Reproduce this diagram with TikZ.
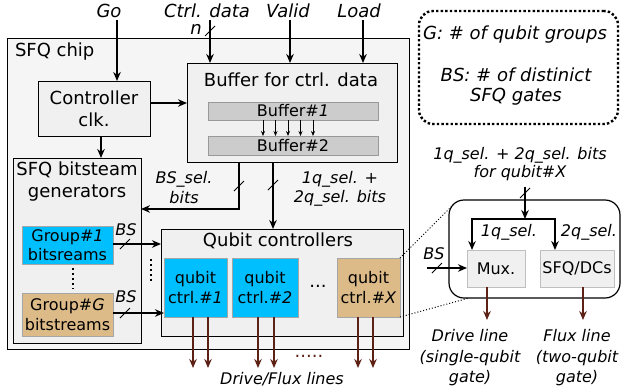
\documentclass[tikz,border=0pt]{standalone}
\usepackage{fontspec}
\setmainfont{DejaVu Sans}
\usepackage{xcolor}
\usetikzlibrary{arrows.meta,positioning,calc}
\definecolor{chipgray}{RGB}{245,245,245}
\definecolor{blockgray}{RGB}{240,240,240}
\definecolor{buffergray}{RGB}{204,204,204}
\definecolor{groupcyan}{RGB}{0,191,255}
\definecolor{grouptan}{RGB}{221,187,136}
\definecolor{linebrown}{RGB}{94,33,22}

\newcommand{\bigfont}{\fontsize{18}{22}\selectfont}
\newcommand{\smallfont}{\fontsize{16}{19.5}\selectfont}
% slash across a bus line
\newcommand{\busmark}[1]{\draw[line width=0.9pt] (#1) ++(-5,5) -- ++(10,-10);}

\begin{document}
\begin{tikzpicture}[x=1pt,y=-1pt,>={Stealth[length=9pt,width=7.5pt]},
    every node/.style={inner sep=0pt,outer sep=0pt},
    block/.style={draw, line width=1pt, fill=blockgray},
    ctrlbox/.style={draw=gray!70, line width=0.6pt, align=center, font=\smallfont},
    sig/.style={->, line width=1.3pt},
    drive/.style={->, line width=1.3pt, draw=linebrown},
    lbl/.style={font=\smallfont\itshape, align=center}]
    \useasboundingbox (0,0) rectangle (621,389);

    % SFQ chip
    \node[block, fill=chipgray, minimum width=402pt, minimum height=311pt] (chip) at (208,193.5) {};
    \node[font=\bigfont, anchor=west] (chiptitle) at (15,52) {SFQ chip};

    % Inputs
    \node[font=\bigfont\itshape] (go) at (109,11) {Go};
    \node[font=\bigfont\itshape] (cdata) at (207,11) {Ctrl. data};
    \node[font=\bigfont\itshape] (valid) at (288,11) {Valid};
    \node[font=\bigfont\itshape] (load) at (359,11) {Load};
    \node[font=\bigfont\itshape] (nbits) at (196,29) {n};

    % Controller clock and buffer
    \node[block, minimum width=112pt, minimum height=55pt, align=center, font=\bigfont] (clk) at (94,108.5) {Controller\\clk.};
    \node[block, minimum width=210pt, minimum height=99pt] (buffer) at (292,112.5) {};
    \node[font=\bigfont] (buftitle) at (291,80) {Buffer for ctrl. data};
    \node[draw=gray!80, fill=buffergray, minimum width=170pt, minimum height=18pt, font=\smallfont] (buf1) at (293,111) {Buffer\#\textit{1}};
    \node[draw=gray!80, fill=buffergray, minimum width=170pt, minimum height=19pt, font=\smallfont] (buf2) at (293,145.5) {Buffer\#2};
    \foreach \dx in {-30,-17.5,-5,7.5,20}
        \draw[->, >={Stealth[length=5pt,width=4pt]}, line width=0.8pt] ([xshift=\dx pt]buf1.south) -- ([xshift=\dx pt]buf2.north);

    \draw[sig] ([xshift=8pt,yshift=-2pt]go.south) -- ([xshift=8pt]go.south |- clk.north);
    \draw[sig] ([xshift=3pt,yshift=-2pt]cdata.south) -- ([xshift=3pt]cdata.south |- buffer.north);
    \busmark{$(cdata.south)+(3,13)$}
    \draw[sig] ([xshift=2pt,yshift=-2pt]valid.south) -- ([xshift=2pt]valid.south |- buffer.north);
    \draw[sig] ([xshift=4pt,yshift=-2pt]load.south) -- ([xshift=4pt]load.south |- buffer.north);
    \draw[sig] ([yshift=5.5pt]clk.east) -- ([yshift=5.5pt]clk.east -| buffer.west);

    % Bitstream generators
    \node[block, minimum width=128pt, minimum height=185pt] (gen) at (77,250.5) {};
    \node[font=\bigfont, align=center] (gentitle) at (77,182) {SFQ bitsteam\\generators};
    \node[ctrlbox, fill=groupcyan, minimum width=91pt, minimum height=38pt] (grp1) at (67.5,245) {Group\#\textit{1}\\bitsreams};
    \node[ctrlbox, fill=grouptan, minimum width=91pt, minimum height=43pt] (grpG) at (67.5,314.5) {Group\#\textit{G}\\bitstreams};
    \draw[line width=1.6pt, dash pattern=on 1.6pt off 3.4pt] (73,268) -- (73,289);
    \draw[sig] ([xshift=7pt]clk.south) -- ([xshift=7pt]clk.south |- gen.north);

    % Qubit controllers
    \node[block, minimum width=242pt, minimum height=107pt] (qc) at (282,282.5) {};
    \node[font=\bigfont] (qctitle) at (278,241) {Qubit controllers};
    \node[ctrlbox, fill=groupcyan, minimum width=63pt, minimum height=59pt] (q1) at (195.5,287.5) {qubit\\ctrl.\#\textit{1}};
    \node[ctrlbox, fill=groupcyan, minimum width=66pt, minimum height=59pt] (q2) at (265,287.5) {qubit\\ctrl.\#\textit{2}};
    \node[ctrlbox, fill=grouptan, minimum width=63pt, minimum height=59pt] (qX) at (368.5,287.5) {qubit\\ctrl.\#\textit{X}};
    \node[font=\bigfont] (qdots) at (318,286) {...};
    \draw[line width=1.6pt, dash pattern=on 1.6pt off 3.4pt] (151,259) -- (151,283);

    % Group bitstreams to qubit controllers
    \draw[sig] ([yshift=1pt]grp1.east) -- ([yshift=1pt]grp1.east -| qc.west);
    \busmark{$(grp1.east)+(12,-1)$}
    \node[lbl] (bs1) at (126,230) {BS};
    \draw[sig] ([yshift=1.5pt]grpG.east) -- ([yshift=1.5pt]grpG.east -| q1.west);
    \busmark{$(grpG.east)+(12,-1.5)$}
    \node[lbl] (bs2) at (126,297) {BS};

    % Select bits from the buffer
    \draw[sig] ([xshift=-53pt]buffer.south) |- ([yshift=41.5pt]gen.east);
    \busmark{$(buffer.south)+(-53,24)$}
    \node[lbl] (bssel) at (184,187.5) {BS\_sel.\\bits};
    \draw[sig] ([xshift=-19pt]buffer.south) -- ([xshift=-19pt]buffer.south |- qc.north);
    \busmark{$(buffer.south)+(-19,23)$}
    \node[lbl] (qsel) at (340,189) {1q\_sel. +\\2q\_sel. bits};

    % Drive/flux outputs
    \foreach \q/\dx in {q1/-2.5, q1/12.5, q2/-7, q2/9, qX/-10.5, qX/4.5}
        \draw[drive] ([xshift=\dx pt]\q.south) -- ++(0,51);
    \node[font=\bigfont, text=linebrown] (moredots) at (309,356) {.....};
    \node[lbl] (drivelbl) at (282,379) {Drive/Flux lines};

    % Legend
    \node[draw, line width=2.4pt, dash pattern=on 2.4pt off 2.2pt, rounded corners=14pt, minimum width=199pt, minimum height=113pt] (legend) at (518.5,67.5) {};
    \node[font=\bigfont\itshape] (gdef) at (515,35) {G: \# of qubit groups};
    \node[font=\fontsize{18}{20}\selectfont\itshape, align=center] (bsdef) at (516,87) {BS: \# of distinict\\SFQ gates};

    % Inside qubit ctrl.#X
    \node[font=\fontsize{16}{18}\selectfont\itshape, align=center] (selbits) at (520,164) {1q\_sel. + 2q\_sel. bits\\for qubit\#X};
    \node[draw, line width=1.2pt, rounded corners=15pt, minimum width=171pt, minimum height=98pt] (detail) at (534.5,249) {};
    \node[draw=gray!50, line width=0.6pt, fill=blockgray, minimum width=58pt, minimum height=37pt, font=\smallfont] (mux) at (496,268.5) {Mux.};
    \node[draw=gray!50, line width=0.6pt, fill=blockgray, minimum width=74pt, minimum height=37pt, font=\smallfont] (sfq) at (577,268.5) {SFQ/DCs};
    \coordinate (split) at (525,219);
    \draw[sig] ([xshift=5pt,yshift=-6pt]selbits.south) -- (split);
    \busmark{$(split)+(0,-26)$}
    \draw[sig] (split) -| ([xshift=-24pt]mux.north);
    \draw[sig] (split) -| ([xshift=-22pt]sfq.north);
    \node[lbl] (onesel) at (509,232) {1q\_sel.};
    \node[lbl] (twosel) at (589,232) {2q\_sel.};
    \coordinate (bsin) at (427,268);
    \draw[sig] (bsin) -- (bsin -| mux.west);
    \busmark{$(bsin)+(10,0)$}
    \node[lbl] (bs3) at (434,254) {BS};
    \draw[drive] ([xshift=-9pt]mux.south) -- ++(0,33);
    \draw[drive] ([xshift=6pt]sfq.south) -- ++(0,33);
    \node[font=\fontsize{16}{20.5}\selectfont\itshape, align=center] (drivedesc) at (470,358) {Drive line\\(single-qubit\\gate)};
    \node[font=\fontsize{16}{20.5}\selectfont\itshape, align=center] (fluxdesc) at (577,358) {Flux line\\(two-qubit\\gate)};

    % Zoom lines
    \draw[dotted, line width=1pt] (qX.north east) -- ($(detail.north west)+(5,4)$);
    \draw[dotted, line width=1pt] (qX.south east) -- ($(detail.south west)+(20,0)$);
\end{tikzpicture}
\end{document}
